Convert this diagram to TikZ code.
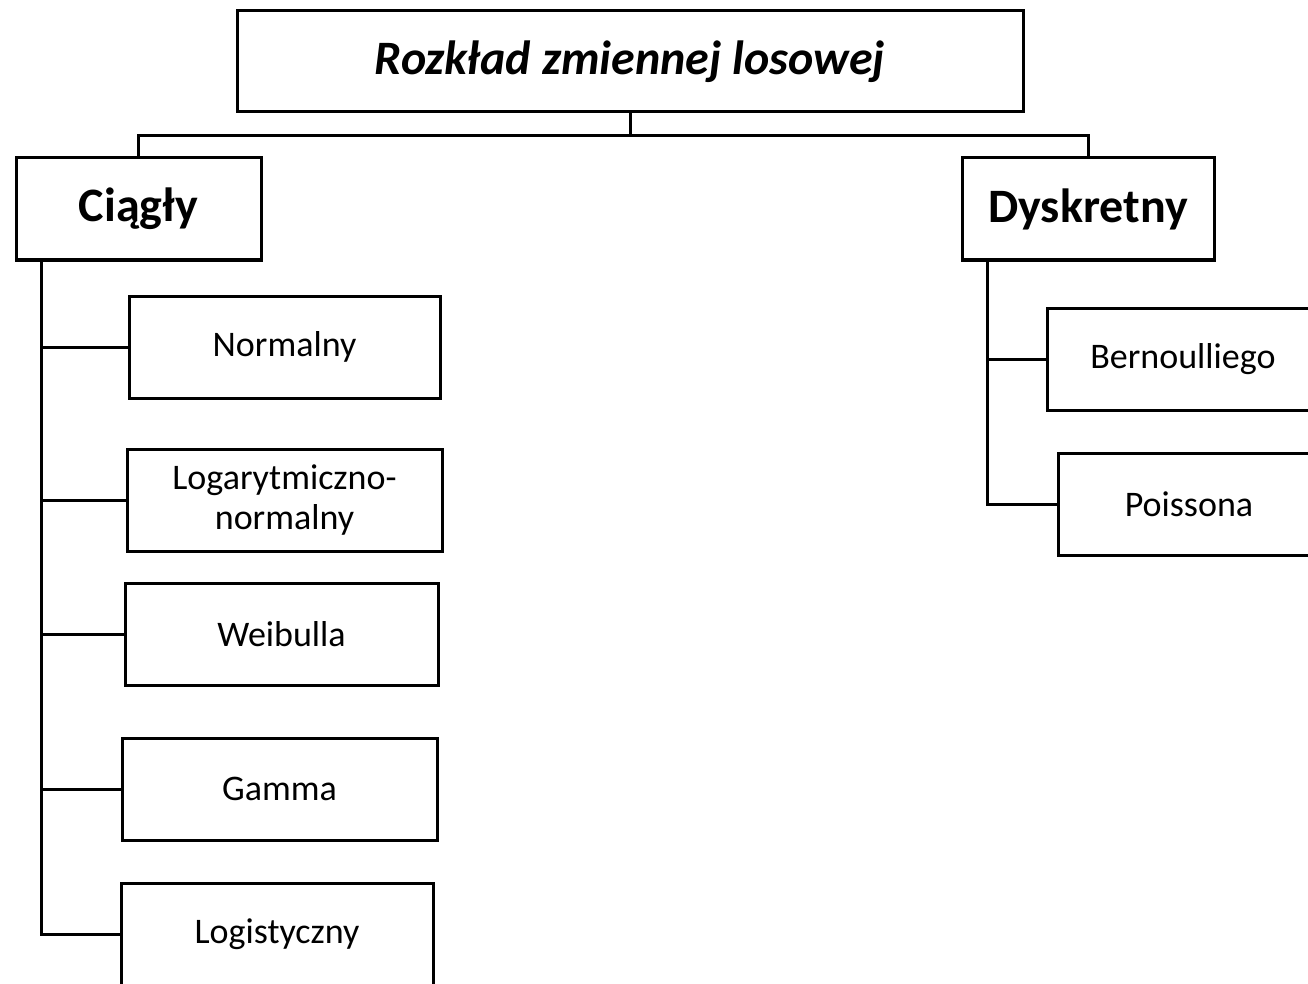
\documentclass[tikz,border=0pt]{standalone}
\usepackage{fontspec}
\setmainfont{Carlito}
\begin{document}
\begin{tikzpicture}[x=1pt,y=-1pt,line width=3pt,
  box/.style={draw=black,line width=3pt,rectangle,inner sep=0pt,align=center,fill=white},
  small/.style={box,font=\fontsize{36}{40}\selectfont},
  mid/.style={box,font=\bfseries\fontsize{48}{52}\selectfont},
  conn/.style={draw=black,line width=3pt}]
\useasboundingbox (0,0) rectangle (1308,984);
\clip (0,0) rectangle (1308,984);
\fill[white] (0,0) rectangle (1308,984);
% top
\node[box,minimum width=786pt,minimum height=101pt,font=\bfseries\itshape\fontsize{48}{52}\selectfont] (top) at (630,61.5) {Rozkład zmiennej losowej};
\node[mid,minimum width=245pt,minimum height=102pt] (cia) at (138.5,209) {Ciągły};
\node[mid,minimum width=252pt,minimum height=102pt] (dys) at (1088,209) {Dyskretny};
% left children
\node[small,minimum width=311pt,minimum height=102pt] (norm) at (284.5,347) {Normalny};
\node[small,minimum width=315pt,minimum height=102pt] (logn) at (284.5,500) {Logarytmiczno-\\normalny};
\node[small,minimum width=313pt,minimum height=102pt] (weib) at (281.5,634) {Weibulla};
\node[small,minimum width=315pt,minimum height=102pt] (gamm) at (279.5,789) {Gamma};
\node[small,minimum width=312pt,minimum height=102pt] (logi) at (277,934) {Logistyczny};
% right children
\node[small,minimum width=272pt,minimum height=102pt] (bern) at (1183,359) {Bernoulliego};
\node[small,minimum width=262pt,minimum height=102pt] (pois) at (1189,504) {Poissona};
% connectors
\coordinate (hub) at (630,136);
\draw[conn] (top.south) -- (hub);
\draw[conn] (hub) -| (cia.north);
\draw[conn] (hub) -| (dys.north);
\coordinate (lt) at (41,260);
\coordinate (rt) at (987,260);
\draw[conn] (lt) |- (logi.west);
\draw[conn] (lt |- norm.west) -- (norm.west);
\draw[conn] (lt |- logn.west) -- (logn.west);
\draw[conn] (lt |- weib.west) -- (weib.west);
\draw[conn] (lt |- gamm.west) -- (gamm.west);
\draw[conn] (rt) |- (pois.west);
\draw[conn] (rt |- bern.west) -- (bern.west);
\end{tikzpicture}
\end{document}
